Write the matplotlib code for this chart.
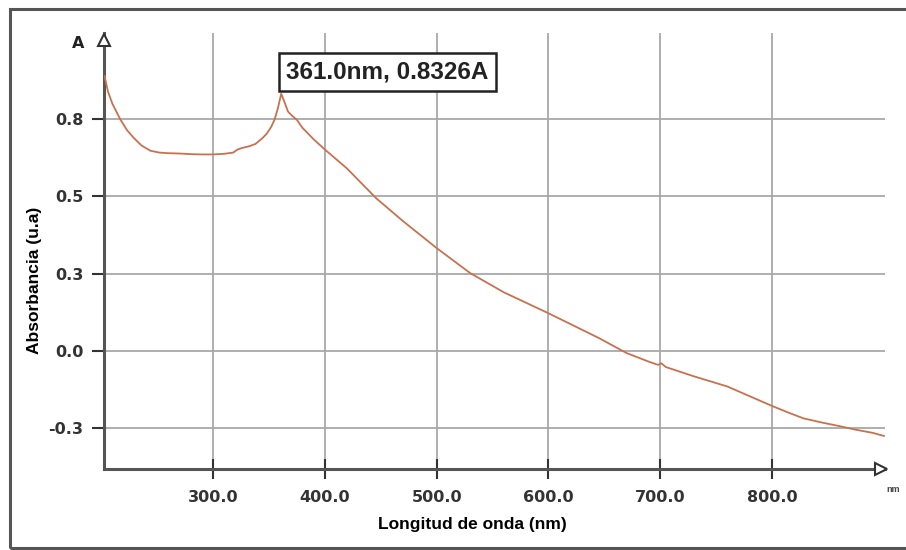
import matplotlib
matplotlib.use("Agg")
import matplotlib.pyplot as plt
from matplotlib.patches import Rectangle

plt.rcParams['font.family'] = ['Liberation Sans', 'DejaVu Sans']

# Data
wavelength_nm = [203, 206, 210, 217, 223, 229, 236, 244, 252, 260, 270, 280, 290,
                 300, 310, 318, 322, 326, 332, 338, 344, 348, 352, 355, 358, 361,
                 364, 367, 371, 375, 380, 390, 400, 420, 446, 470, 500, 530, 560,
                 600, 645, 670, 690, 698, 701, 705, 730, 760, 800, 815, 828, 845,
                 860, 875, 890, 900]
absorbance = [0.89, 0.84, 0.80, 0.75, 0.715, 0.69, 0.665, 0.648, 0.642, 0.640,
              0.639, 0.637, 0.636, 0.636, 0.638, 0.642, 0.652, 0.657, 0.662,
              0.670, 0.688, 0.703, 0.725, 0.748, 0.785, 0.8326, 0.805, 0.775,
              0.760, 0.748, 0.722, 0.685, 0.652, 0.590, 0.494, 0.420, 0.333,
              0.252, 0.190, 0.122, 0.042, -0.007, -0.035, -0.045, -0.040, -0.052,
              -0.082, -0.115, -0.178, -0.200, -0.218, -0.232, -0.243, -0.255,
              -0.265, -0.275]

x_ticks = [300, 400, 500, 600, 700, 800]
x_tick_labels = ["300.0", "400.0", "500.0", "600.0", "700.0", "800.0"]
y_ticks = [0.75, 0.5, 0.25, 0.0, -0.25]
y_tick_labels = ["0.8", "0.5", "0.3", "0.0", "-0.3"]

peak_nm = 361.0
peak_abs = 0.8326

W, H = 906, 550
fig = plt.figure(figsize=(W / 100, H / 100), dpi=100)

# outer frame
frame = Rectangle((10 / W, 2.5 / H), 1.2, 1 - 11 / H, transform=fig.transFigure,
                  fill=False, edgecolor='#555555', linewidth=2.2, clip_on=False)
fig.add_artist(frame)

ax = fig.add_axes([104 / W, 81 / H, 781 / W, 436 / H])
ax.set_xlim(202.5, 901)
ax.set_ylim(-0.382, 1.029)

ax.plot(wavelength_nm, absorbance, color='#c8714f', linewidth=1.3, zorder=3)

ax.set_xticks(x_ticks)
ax.set_xticklabels(x_tick_labels)
ax.set_yticks(y_ticks)
ax.set_yticklabels(y_tick_labels)

ax.grid(True, color='#a8a8a8', linewidth=1.3)
ax.set_axisbelow(True)

for s in ['top', 'right']:
    ax.spines[s].set_visible(False)
for s in ['left', 'bottom']:
    ax.spines[s].set_color('#555555')
    ax.spines[s].set_linewidth(2.2)

tick_font = dict(family='DejaVu Sans', weight='bold', size=11.5)
ax.tick_params(axis='y', direction='out', length=9, width=1.5, color='#333333',
               pad=6, labelcolor='#333333')
ax.tick_params(axis='x', direction='inout', length=14, width=1.5, color='#333333',
               pad=8, labelcolor='#333333')
for lbl in ax.get_xticklabels() + ax.get_yticklabels():
    lbl.set_fontproperties(tick_font)

# axis arrows (hollow)
ax.plot([202.5], [1.005], marker='^', markersize=9, markerfacecolor='white',
        markeredgecolor='#333333', markeredgewidth=1.5, clip_on=False, zorder=5)
ax.plot([897], [-0.382], marker='>', markersize=9, markerfacecolor='white',
        markeredgecolor='#333333', markeredgewidth=1.5, clip_on=False, zorder=5)

# peak annotation
ax.annotate(f"{peak_nm:.1f}nm, {peak_abs:.4f}A", xy=(peak_nm, peak_abs),
            xytext=(3.5, 7.5), textcoords='offset points',
            fontsize=17.5, fontweight='bold', color='#222222', ha='left', va='bottom',
            bbox=dict(boxstyle='square,pad=0.3', facecolor='white',
                      edgecolor='#222222', linewidth=1.8), zorder=6)

fig.text(78 / W, 1 - 44 / H, "A", family='DejaVu Sans', fontsize=11.5,
         fontweight='bold', ha='center', va='center', color='#222222')
fig.text(893 / W, 1 - 490 / H, "nm", fontsize=6.5, fontweight='bold',
         ha='center', va='center', color='#444444')

fig.text(472 / W, 1 - 524 / H, "Longitud de onda (nm)", fontsize=12.5,
         fontweight='bold', ha='center', va='center', color='black')
fig.text(35 / W, 1 - 280 / H, "Absorbancia (u.a)", fontsize=12.5,
         fontweight='bold', ha='center', va='center', rotation=90, color='black')

fig.savefig("out.png", dpi=100)
